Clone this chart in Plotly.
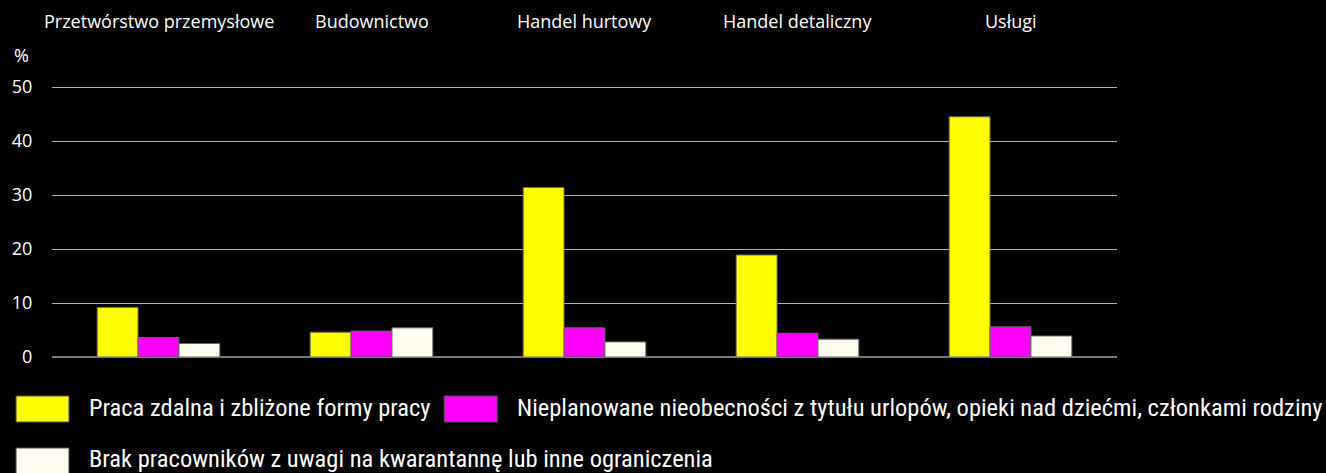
import plotly.graph_objects as go

categories = ["Przetwórstwo przemysłowe", "Budownictwo", "Handel hurtowy", "Handel detaliczny", "Usługi"]
series_names = [
    "Praca zdalna i zbliżone formy pracy",
    "Nieplanowane nieobecności z tytułu urlopów, opieki nad dziećmi, członkami rodziny",
    "Brak pracowników z uwagi na kwarantannę lub inne ograniczenia",
]
remote_work = [9.2, 4.6, 31.4, 18.9, 44.5]
absences = [3.6, 4.8, 5.4, 4.4, 5.6]
quarantine = [2.5, 5.4, 2.8, 3.3, 3.9]
y_ticks = [0, 10, 20, 30, 40, 50]

colors = ["#FFFF00", "#FF00FF", "#FFFDF0"]
values = [remote_work, absences, quarantine]

W, H = 1326, 473
L, R, T, B = 50, 209, 86, 116
pw, ph = W - L - R, H - T - B

def px_x(x):
    return (x - L) / pw

def px_y(y):
    return (H - B - y) / ph

fig = go.Figure()
for name, vals, col in zip(series_names, values, colors):
    fig.add_trace(go.Bar(
        x=categories, y=vals, name=name,
        marker=dict(color=col, line=dict(color="#666666", width=1)),
        showlegend=False,
    ))

font_main = "Open Sans, Noto Sans, sans-serif"
font_leg = "Roboto Condensed, Liberation Sans Narrow, DejaVu Sans Condensed, Noto Sans, sans-serif"

annotations = []
for c in categories:
    annotations.append(dict(x=c, xref="x", y=1, yref="paper", yshift=65, text=c,
                            showarrow=False, font=dict(size=18, color="#ffffff", family=font_main),
                            xanchor="center", yanchor="middle"))
annotations.append(dict(x=px_x(10), xref="paper", y=px_y(55), yref="paper", text="%",
                        showarrow=False, xanchor="left", yanchor="middle",
                        font=dict(size=18, color="#ffffff", family=font_main)))

# custom legend: (box x, box centre y, text centre y)
leg_pos = [(14, 409, 408), (443, 409, 408), (14, 461, 458)]
shapes = []
for (lx, ly, ty), name, col in zip(leg_pos, series_names, colors):
    shapes.append(dict(type="rect", xref="paper", yref="paper",
                       x0=px_x(lx), x1=px_x(lx + 53), y0=px_y(ly - 13), y1=px_y(ly + 13),
                       fillcolor=col, line=dict(width=1, color="#555555")))
    annotations.append(dict(x=px_x(lx + 71), xref="paper", y=px_y(ty), yref="paper", text=name,
                            showarrow=False, xanchor="left", yanchor="middle",
                            font=dict(size=24.5, color="#ffffff", family=font_leg)))

fig.update_layout(
    width=W, height=H,
    margin=dict(l=L, r=R, t=T, b=B, pad=0),
    paper_bgcolor="#000000", plot_bgcolor="#000000",
    barmode="group", bargap=0.424, bargroupgap=0,
    annotations=annotations, shapes=shapes,
    showlegend=False,
)
fig.update_xaxes(range=[-0.5, len(categories) - 0.5], autorange=False,
                 showticklabels=False, showgrid=False, zeroline=False, showline=False, ticks="")
fig.update_yaxes(range=[0, 50.2], autorange=False, tickvals=y_ticks, showgrid=True,
                 gridcolor="#b0b0b0", gridwidth=1,
                 zeroline=True, zerolinecolor="#777777", zerolinewidth=2,
                 ticks="outside", ticklen=15, tickcolor="rgba(0,0,0,0)",
                 tickfont=dict(size=18, color="#ffffff", family=font_main), showline=False)

fig.write_html("out.html", config={"displayModeBar": False},
               post_script="document.body.style.margin='0';document.body.style.background='#000';")
